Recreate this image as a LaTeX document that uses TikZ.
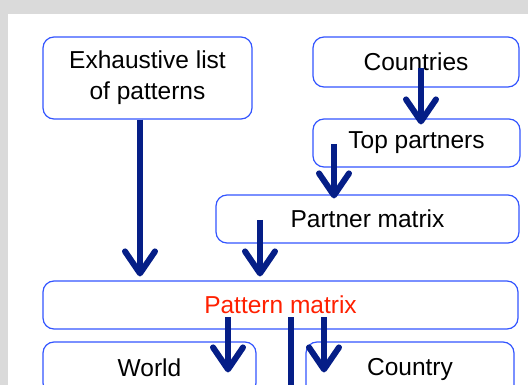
\documentclass[tikz,border=0pt]{standalone}
\usepackage{fontspec}
\setmainfont{Liberation Sans}
\usetikzlibrary{arrows.meta,calc}
\definecolor{boxblue}{RGB}{51,85,255}
\definecolor{arrownavy}{RGB}{5,30,135}
\definecolor{txtred}{RGB}{255,32,0}
\definecolor{bggray}{RGB}{218,218,218}
\tikzset{
  flowbox/.style={draw=boxblue, line width=1.2pt, rounded corners=11pt, fill=white,
    align=center, inner sep=0pt, font=\fontsize{24.5}{31}\selectfont},
  flowarrow/.style={draw=arrownavy, line width=6pt,
    -{Straight Barb[length=22pt, width=30pt, round]}},
  flowline/.style={draw=arrownavy, line width=6pt}
}
\begin{document}
\begin{tikzpicture}[x=1pt,y=-1pt]
\clip (0,0) rectangle (528,385);
\fill[bggray] (0,0) rectangle (528,385);
\fill[white] (8,14) rectangle (540,400);

\node[flowbox, minimum width=209pt, minimum height=82pt] (ex) at (147.5,78) {Exhaustive list\\of patterns};
\node[flowbox, minimum width=206pt, minimum height=50pt] (cty) at (416,62) {Countries};
\node[flowbox, minimum width=207pt, minimum height=48pt] (top) at (416.5,143) {Top partners};
\node[flowbox, minimum width=303pt, minimum height=48pt] (pm) at (367.5,219) {Partner matrix};
\node[flowbox, minimum width=475pt, minimum height=48pt, text=txtred] (pat) at (280.5,305) {Pattern matrix};
\node[flowbox, minimum width=213pt, minimum height=52pt] (world) at (149.5,368) {World};
\node[flowbox, minimum width=208pt, minimum height=54pt] (country) at (410,369) {Country};

\coordinate (a1s) at ([xshift=-7.5pt]ex.south);
\coordinate (a1e) at ($(a1s |- pat.north)+(0,-4)$);
\coordinate (a2s) at ([xshift=5pt,yshift=-6pt]cty.center);
\coordinate (a2e) at ($(a2s |- top.north)+(0,6)$);
\coordinate (a3s) at ([xshift=-82.5pt,yshift=-1pt]top.center);
\coordinate (a3e) at ($(a3s |- pm.north)+(0,4)$);
\coordinate (a4s) at ([xshift=-107.5pt,yshift=-1pt]pm.center);
\coordinate (a4e) at ($(a4s |- pat.north)+(0,-4)$);
\coordinate (a5s) at ([xshift=-52.5pt,yshift=-12pt]pat.center);
\coordinate (a5e) at ($(a5s |- world.north)+(0,31)$);
\coordinate (a6s) at ([xshift=10.5pt,yshift=-12pt]pat.center);
\coordinate (a6e) at ($(a6s)+(0,80)$);
\coordinate (a7s) at ([xshift=43.5pt,yshift=-12pt]pat.center);
\coordinate (a7e) at ($(a7s |- country.north)+(0,31)$);

\draw[flowarrow] (a1s) -- (a1e);
\draw[flowarrow] (a2s) -- (a2e);
\draw[flowarrow] (a3s) -- (a3e);
\draw[flowarrow] (a4s) -- (a4e);
\draw[flowarrow] (a5s) -- (a5e);
\draw[flowline] (a6s) -- (a6e);
\draw[flowarrow] (a7s) -- (a7e);
\end{tikzpicture}
\end{document}
